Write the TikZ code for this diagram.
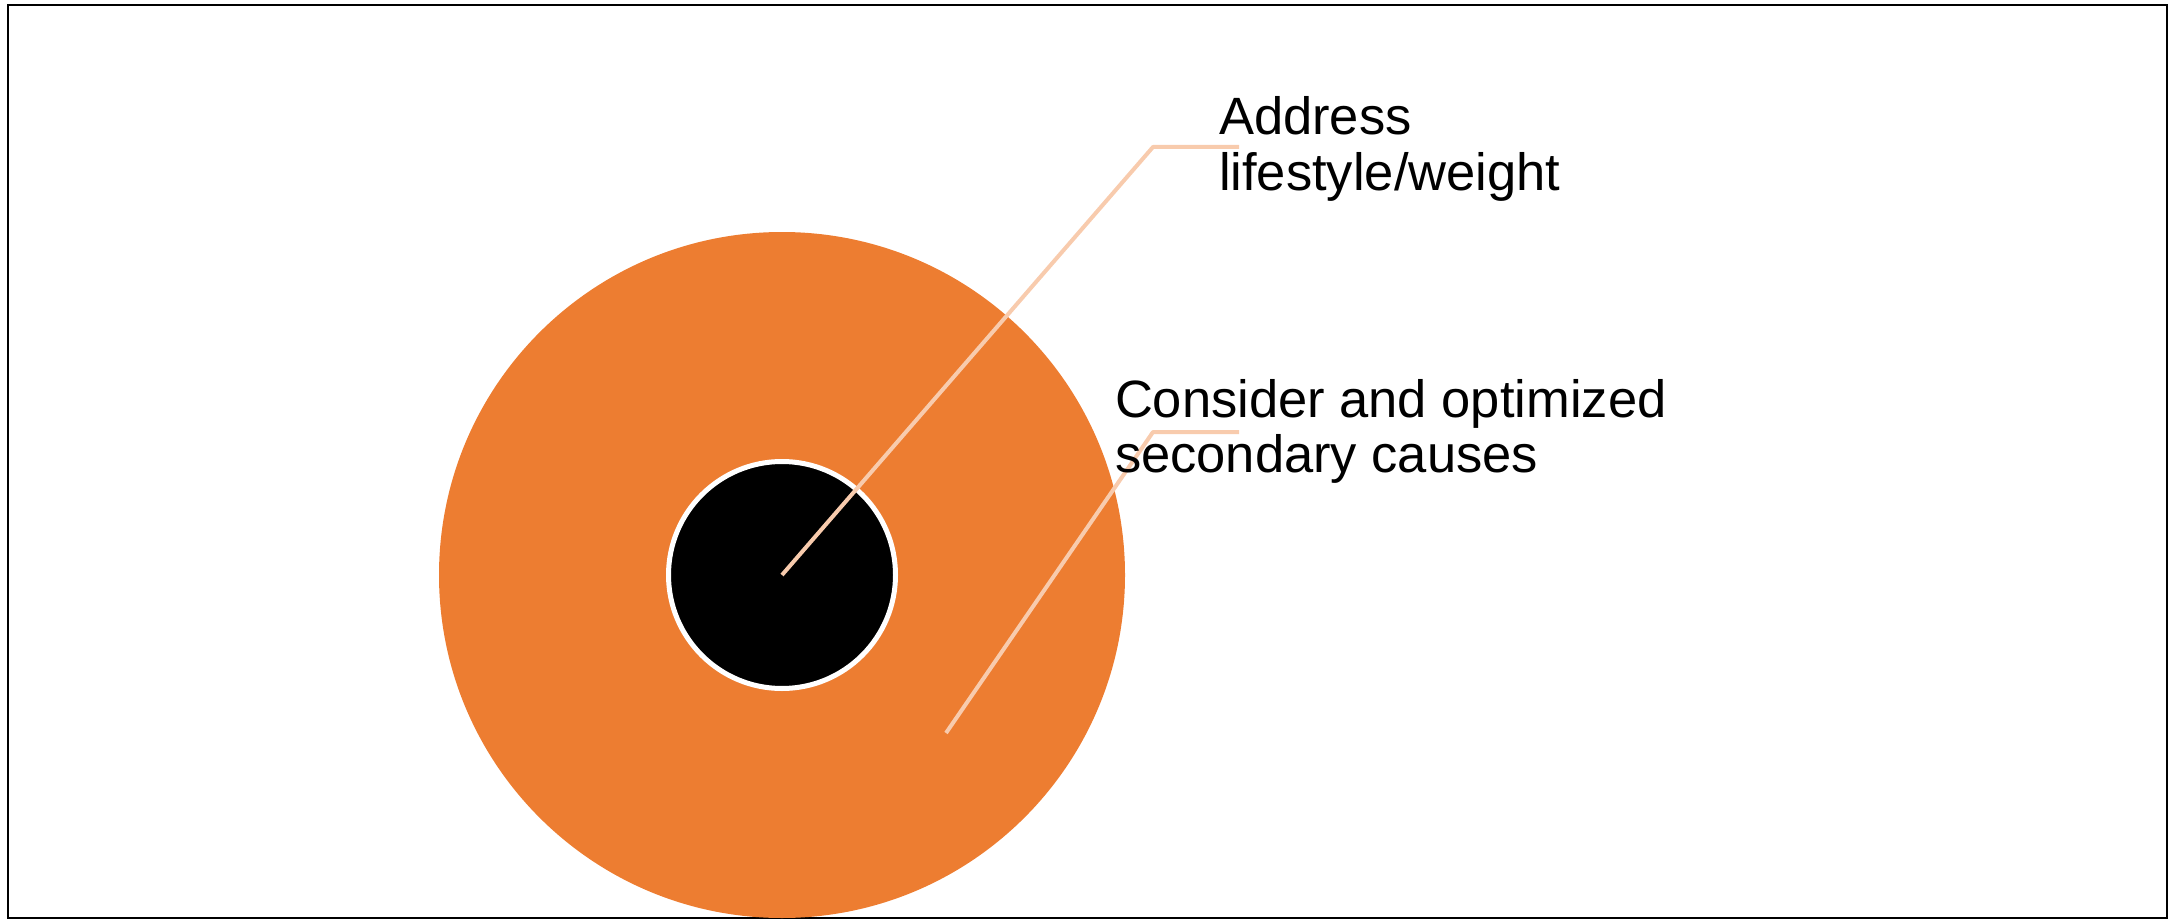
\documentclass[tikz,border=0pt]{standalone}
\usepackage{fontspec}
\setmainfont{Liberation Sans}
\definecolor{ringorange}{HTML}{ED7D31}
\definecolor{leader}{HTML}{F8CBAD}
\begin{document}
\begin{tikzpicture}[x=1pt,y=-1pt,
  labeltext/.style={anchor=base west,inner sep=0pt,outer sep=0pt,font=\fontsize{52.5}{55}\selectfont},
  leaderline/.style={draw=leader,line width=4pt,line join=round}]
\useasboundingbox (0,0) rectangle (2177,923);
\draw[line width=2pt] (8,5) rectangle (2167,918);
\node[circle,fill=ringorange,minimum size=686pt,inner sep=0pt] (outer) at (782,575) {};
\node[circle,fill=black,draw=white,line width=5pt,minimum size=227pt,inner sep=0pt] (inner) at (782,575) {};
\coordinate (c1) at (1153,147);
\coordinate (e1) at (1239,147);
\coordinate (s2) at (946,733);
\coordinate (c2) at (1153,432);
\coordinate (e2) at (1239,432);
\draw[leaderline] (inner.center) -- (c1) -- (e1);
\draw[leaderline] (s2) -- (c2) -- (e2);
\node[labeltext] (t1a) at (1219,135) {Address};
\node[labeltext] (t1b) at (1219,190) {lifestyle/weight};
\node[labeltext] (t2a) at (1115,417) {Consider and optimized};
\node[labeltext] (t2b) at (1115,472) {secondary causes};
\end{tikzpicture}
\end{document}
